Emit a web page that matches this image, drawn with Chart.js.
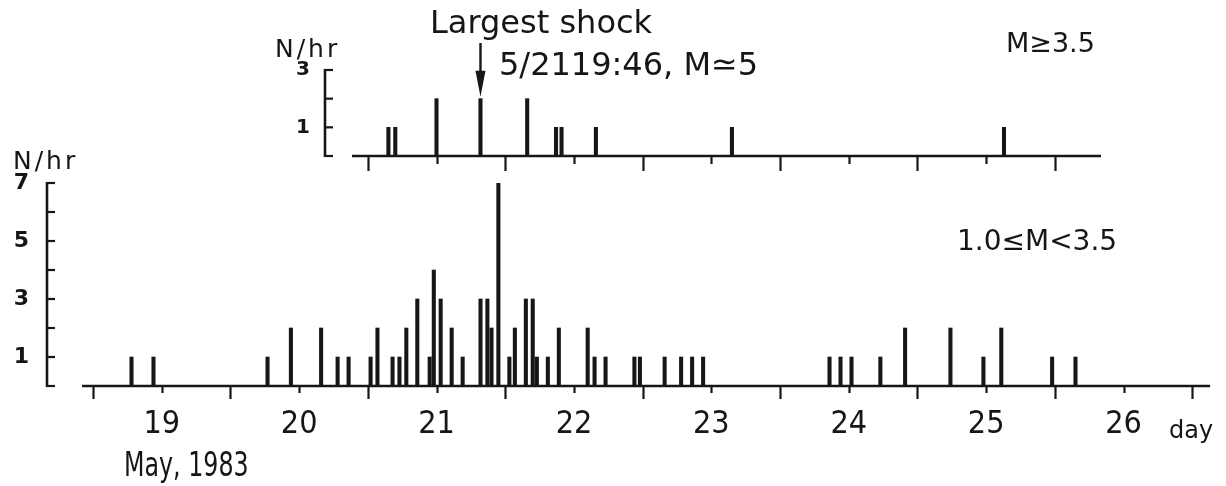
<!DOCTYPE html>
<html>
<head>
<meta charset="utf-8">
<script src="https://cdn.jsdelivr.net/npm/chart.js@4.4.0/dist/chart.umd.min.js"></script>
<style>
  body { margin: 0; background: #fff; }
  #wrap { position: relative; width: 1226px; height: 486px; background: #fff; }
  #wrap canvas { position: absolute; left: 0; top: 0; }
</style>
</head>
<body>
<div id="wrap">
  <canvas id="low-chart" width="1226" height="486"></canvas>
  <canvas id="high-chart" width="1226" height="486"></canvas>
</div>
<script>
// time of each hourly bin, in days of May 1983 (21.5 = May 21, 12:00)
var lowTimes = [19.28, 19.44, 20.27, 20.44, 20.66, 20.78, 20.86,
  21.02, 21.07, 21.18, 21.23, 21.28, 21.36, 21.45, 21.48, 21.53, 21.61, 21.69, 21.82, 21.87, 21.90, 21.95,
  22.03, 22.07, 22.15, 22.20, 22.23, 22.31, 22.39, 22.60, 22.65, 22.73, 22.94, 22.98,
  23.16, 23.28, 23.36, 23.44, 24.36, 24.44, 24.52, 24.73, 24.91,
  25.24, 25.48, 25.61, 25.98, 26.15];
var lowCounts = [1, 1, 1, 2, 2, 1, 1,
  1, 2, 1, 1, 2, 3, 1, 4, 3, 2, 1, 3, 3, 2, 7,
  1, 2, 3, 3, 1, 1, 2, 2, 1, 1, 1, 1,
  1, 1, 1, 1, 1, 1, 1, 1, 2,
  2, 1, 2, 1, 1];

var highTimes = [21.15, 21.20, 21.50, 21.82, 22.16, 22.37, 22.41, 22.66, 23.65, 25.63];
var highCounts = [1, 1, 2, 2, 2, 1, 1, 1, 1, 1];

var mainShockTime = 21.82;
var dayLabels = ['19', '20', '21', '22', '23', '24', '25', '26'];

var ink = '#161616';
var narrow = "'Liberation Sans Narrow', 'DejaVu Sans Condensed', sans-serif";
var plain = "'DejaVu Sans', sans-serif";

function toPoints(times, counts) {
  var pts = [];
  for (var i = 0; i < times.length; i++) {
    pts.push({ x: times[i], y: counts[i] });
  }
  return pts;
}

function oddOnly(v) {
  return (v % 2 === 1) ? String(v) : '';
}

function note(ctx, text, x, y, font, spacing, squeeze) {
  ctx.save();
  ctx.fillStyle = ink;
  ctx.font = font;
  ctx.textBaseline = 'alphabetic';
  ctx.textAlign = 'left';
  if (spacing) ctx.letterSpacing = spacing;
  ctx.translate(x, y);
  if (squeeze) ctx.scale(squeeze, 1);
  ctx.fillText(text, 0, 0);
  ctx.restore();
}

// baseline with long ticks at midnight and short ticks at noon, plus the bracket y axis
function penAxes(chart, from, to, tickFrom, tickTo, longTick, shortTick) {
  var ctx = chart.ctx;
  var xs = chart.scales.x, ys = chart.scales.y;
  var y0 = ys.getPixelForValue(0);
  ctx.save();
  ctx.strokeStyle = ink;
  ctx.lineWidth = 2.6;
  ctx.beginPath();
  ctx.moveTo(xs.getPixelForValue(from), y0);
  ctx.lineTo(xs.getPixelForValue(to), y0);
  ctx.stroke();
  ctx.lineWidth = 2.2;
  for (var t = tickFrom; t <= tickTo + 0.001; t += 0.5) {
    var px = Math.round(xs.getPixelForValue(t)) + 0.5;
    var len = (Math.abs(t - Math.round(t)) < 0.01) ? longTick : shortTick;
    ctx.beginPath();
    ctx.moveTo(px, y0);
    ctx.lineTo(px, y0 + len);
    ctx.stroke();
  }
  var ax = chart.chartArea.left;
  ctx.lineWidth = 2.6;
  ctx.beginPath();
  ctx.moveTo(ax, ys.getPixelForValue(0) + 1);
  ctx.lineTo(ax, ys.getPixelForValue(ys.max) - 1);
  ctx.stroke();
  ctx.lineWidth = 2.2;
  for (var v = 0; v <= ys.max; v++) {
    var py = ys.getPixelForValue(v);
    ctx.beginPath();
    ctx.moveTo(ax - 1, py);
    ctx.lineTo(ax + 8, py);
    ctx.stroke();
  }
  ctx.restore();
}

new Chart(document.getElementById('low-chart'), {
  type: 'bar',
  data: {
    datasets: [{
      label: '1.0 <= M < 3.5',
      data: toPoints(lowTimes, lowCounts),
      backgroundColor: ink,
      borderWidth: 0,
      barThickness: 3.4
    }]
  },
  options: {
    responsive: false,
    animation: false,
    layout: { padding: { left: 0, top: 183, right: 16, bottom: 0 } },
    plugins: { legend: { display: false }, tooltip: { enabled: false } },
    scales: {
      x: {
        type: 'linear',
        min: 18.665,
        max: 27.129,
        offset: false,
        afterFit: function (scale) { scale.height = 100; },
        grid: { display: false, drawTicks: false },
        border: { display: false },
        afterBuildTicks: function (scale) {
          scale.ticks = dayLabels.map(function (d) { return { value: Number(d) + 0.5 }; });
        },
        ticks: {
          autoSkip: false,
          maxRotation: 0,
          padding: 19,
          color: ink,
          font: { family: narrow, size: 32 },
          callback: function (v) { return String(Math.floor(v)); }
        }
      },
      y: {
        min: 0,
        max: 7,
        afterFit: function (scale) { scale.width = 47; },
        grid: { display: false, drawTicks: false },
        border: { display: false },
        ticks: {
          stepSize: 1,
          autoSkip: false,
          padding: 18,
          color: ink,
          font: { family: plain, size: 22, weight: 'bold' },
          callback: oddOnly
        }
      }
    }
  },
  plugins: [{
    id: 'lowPen',
    afterDatasetsDraw: function (chart) {
      penAxes(chart, 18.92, 27.13, 19, 27, 13, 7);
      var ctx = chart.ctx;
      note(ctx, 'N/hr', 13, 169, '25px ' + plain, '3px');
      note(ctx, '1.0\u2264M<3.5', 957, 250, '28px ' + plain);
      note(ctx, 'day', 1169, 438, '24px ' + plain);
      note(ctx, 'May, 1983', 124, 476, '33px ' + narrow, null, 0.8);
    }
  }]
});

new Chart(document.getElementById('high-chart'), {
  type: 'bar',
  data: {
    datasets: [{
      label: 'M >= 3.5',
      data: toPoints(highTimes, highCounts),
      backgroundColor: ink,
      borderWidth: 0,
      barThickness: 3.4
    }]
  },
  options: {
    responsive: false,
    animation: false,
    layout: { padding: { left: 0, top: 70, right: 125, bottom: 330 } },
    plugins: { legend: { display: false }, tooltip: { enabled: false } },
    scales: {
      x: {
        type: 'linear',
        display: false,
        min: 20.6885,
        max: 26.336,
        offset: false
      },
      y: {
        min: 0,
        max: 3,
        afterFit: function (scale) { scale.width = 325; },
        grid: { display: false, drawTicks: false },
        border: { display: false },
        ticks: {
          stepSize: 1,
          autoSkip: false,
          padding: 15,
          color: ink,
          font: { family: plain, size: 20, weight: 'bold' },
          callback: oddOnly
        }
      }
    }
  },
  plugins: [{
    id: 'highPen',
    afterDatasetsDraw: function (chart) {
      penAxes(chart, 20.885, 26.336, 21, 26, 15, 8);
      var ctx = chart.ctx;
      var xs = chart.scales.x, ys = chart.scales.y;
      // arrow onto the largest shock
      var ax = xs.getPixelForValue(mainShockTime);
      var tip = ys.getPixelForValue(2) - 2;
      ctx.save();
      ctx.strokeStyle = ink;
      ctx.fillStyle = ink;
      ctx.lineWidth = 2.4;
      ctx.beginPath();
      ctx.moveTo(ax, 43);
      ctx.lineTo(ax, tip - 20);
      ctx.stroke();
      ctx.beginPath();
      ctx.moveTo(ax - 5, tip - 26);
      ctx.lineTo(ax + 5, tip - 26);
      ctx.lineTo(ax, tip);
      ctx.closePath();
      ctx.fill();
      ctx.restore();
      note(ctx, 'N/hr', 275, 57, '25px ' + plain, '3px');
      note(ctx, 'Largest shock', 430, 33, '32px ' + plain);
      note(ctx, '5/2119:46, M\u22435', 499, 75, '32px ' + plain);
      note(ctx, 'M\u22653.5', 1006, 52, '27px ' + plain);
    }
  }]
});
</script>
</body>
</html>
